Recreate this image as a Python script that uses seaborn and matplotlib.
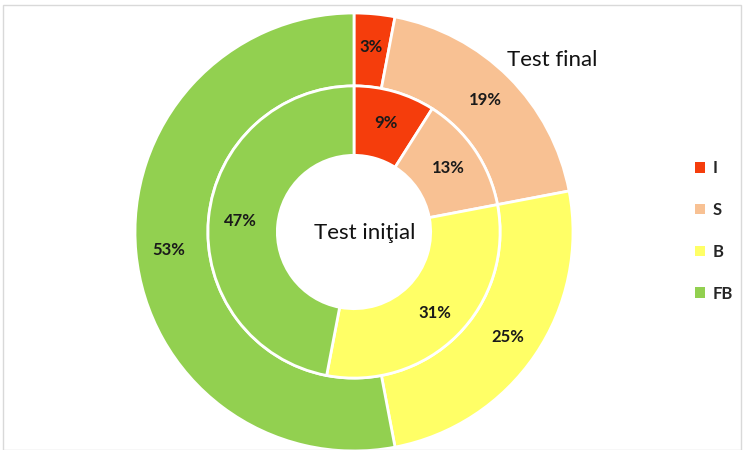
import matplotlib
matplotlib.use("Agg")
import matplotlib.pyplot as plt
from matplotlib.patches import Patch, Rectangle
import seaborn as sns

categories = ["I", "S", "B", "FB"]
final_values = [3, 19, 25, 53]
initial_values = [9, 13, 31, 47]
colors_hex = ["#f53d0c", "#f8c193", "#ffff66", "#92d050"]
outer_title = "Test final"
inner_title = "Test ini\u0163ial"

sns.set_theme(style="white")
plt.rcParams["font.family"] = ["Lato", "DejaVu Sans"]
colors = sns.color_palette(colors_hex)

W, H = 744, 450
fig = plt.figure(figsize=(W / 100, H / 100), dpi=100)
ax = fig.add_axes([0, 0, 1, 1])

R = 219.0
cx, cy = 354.0, 232.0  # pixel center (from top)
r_inner_outer = 0.667
r_hole = 0.35

wp = dict(edgecolor="white", linewidth=2)
txt = dict(fontsize=12, color="#1a1a1a", fontweight="bold")
ax.pie(final_values, radius=1.0, colors=colors, startangle=90, counterclock=False,
       wedgeprops=dict(width=1.0 - r_inner_outer, **wp),
       autopct=lambda p: f"{p:.0f}%", pctdistance=0.85, textprops=txt)
ax.pie(initial_values, radius=r_inner_outer, colors=colors, startangle=90, counterclock=False,
       wedgeprops=dict(width=r_inner_outer - r_hole, **wp),
       autopct=lambda p: f"{p:.0f}%", pctdistance=0.78, textprops=txt)

ax.set_aspect("auto")
ax.set_xlim(-cx / R, (W - cx) / R)
ax.set_ylim(-(H - cy) / R, cy / R)
ax.axis("off")

ax.text((552 - cx) / R, (cy - 60) / R, outer_title, ha="center", va="center",
        fontsize=16, color="#111111")
ax.text((365 - cx) / R, (cy - 233) / R, inner_title, ha="center", va="center",
        fontsize=16, color="#111111")

handles = [Patch(facecolor=c, edgecolor="none") for c in colors]
fig.legend(handles, categories, loc="center left", bbox_to_anchor=(0.925, 0.487),
           frameon=False, fontsize=12, handlelength=0.6, handleheight=0.6,
           handletextpad=0.45, labelspacing=1.55, borderaxespad=0,
           prop=dict(size=12, weight="bold"))

fig.patches.append(Rectangle((3 / W, 0), (W - 6) / W, (H - 5) / H, transform=fig.transFigure,
                             fill=False, edgecolor="#d9d9d9", linewidth=1))

fig.savefig("out.png", dpi=100)
